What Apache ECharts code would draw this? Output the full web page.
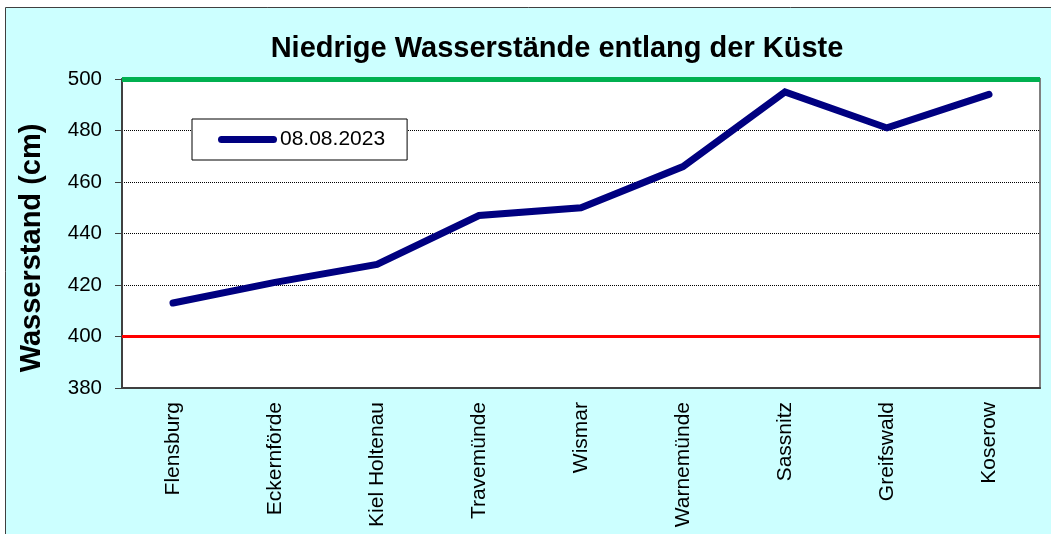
<!DOCTYPE html>
<html>
<head>
<meta charset="utf-8">
<script src="https://cdn.jsdelivr.net/npm/echarts@6/dist/echarts.min.js"></script>
<style>
  html, body { margin: 0; padding: 0; background: #fff; }
  #chart { width: 1051px; height: 534px; }
</style>
</head>
<body>
<div id="chart"></div>
<script>
// Pegelstände an der Küste
const categories = ['Flensburg', 'Eckernförde', 'Kiel Holtenau', 'Travemünde', 'Wismar',
  'Warnemünde', 'Sassnitz', 'Greifswald', 'Koserow']
const waterLevels = [413, 421, 428, 447, 450, 466, 495, 481, 494]
const seriesName = '08.08.2023'
const upperLimit = 500
const lowerLimit = 400
const yMin = 380
const yMax = 500
const yStep = 20

const font = 'Liberation Sans, Arial, sans-serif'

const options = {
  animation: false,
  graphic: [
    {
      type: 'rect',
      z: -10,
      shape: { x: 5.5, y: 7.5, width: 1200, height: 700 },
      style: { fill: '#CCFFFF', stroke: '#404040', lineWidth: 1 },
    },
    {
      type: 'text',
      z: 10,
      x: 32,
      y: 248,
      rotation: Math.PI / 2,
      style: {
        text: 'Wasserstand (cm)',
        font: 'bold 29px ' + font,
        fill: '#000',
        align: 'center',
        verticalAlign: 'middle',
      },
    },
  ],
  title: {
    text: 'Niedrige Wasserstände entlang der Küste',
    left: 557,
    top: 34,
    padding: 0,
    textAlign: 'center',
    textStyle: { fontFamily: font, fontSize: 29, fontWeight: 'bold', color: '#000' },
  },
  legend: {
    left: 192,
    top: 119,
    padding: [10, 22, 10, 26],
    backgroundColor: '#fff',
    borderColor: '#000',
    borderWidth: 1,
    itemWidth: 59,
    itemHeight: 7,
    itemGap: 5,
    data: [{
      name: seriesName,
      icon: 'path://M3.5,0 L55.5,0 A3.5,3.5 0 0 1 55.5,7 L3.5,7 A3.5,3.5 0 0 1 3.5,0 Z',
      itemStyle: { color: '#000080' },
    }],
    textStyle: { fontFamily: font, fontSize: 21, color: '#000', padding: [0, 0, 0, -2] },
  },
  grid: {
    left: 122,
    right: 11,
    top: 79,
    bottom: 146,
    show: true,
    backgroundColor: '#fff',
    borderColor: '#808080',
    borderWidth: 2,
  },
  xAxis: {
    type: 'category',
    data: categories,
    boundaryGap: true,
    axisLine: { lineStyle: { color: '#404040', width: 2 } },
    axisTick: { length: 7, lineStyle: { color: '#404040', width: 1 } },
    axisLabel: {
      rotate: 90,
      margin: 14,
      interval: 0,
      fontFamily: font,
      fontSize: 21,
      color: '#000',
    },
  },
  yAxis: {
    type: 'value',
    min: yMin,
    max: yMax,
    interval: yStep,
    axisLine: { show: true, lineStyle: { color: '#404040', width: 2 } },
    axisTick: { show: true, length: 7, lineStyle: { color: '#404040', width: 1 } },
    axisLabel: { margin: 20, fontFamily: font, fontSize: 20.5, color: '#000' },
    splitLine: { lineStyle: { color: '#000', width: 1, type: [1, 1] } },
  },
  series: [
    {
      name: seriesName,
      type: 'line',
      data: waterLevels,
      symbol: 'none',
      z: 5,
      lineStyle: { color: '#000080', width: 7, cap: 'round', join: 'miter' },
      itemStyle: { color: '#000080' },
      markLine: {
        silent: true,
        symbol: 'none',
        label: { show: false },
        data: [
          { yAxis: upperLimit, lineStyle: { color: '#00B050', width: 5, type: 'solid' } },
          { yAxis: lowerLimit, lineStyle: { color: '#FF0000', width: 3, type: 'solid' } },
        ],
      },
    },
  ],
}

const chart = echarts.init(document.getElementById('chart'))
chart.setOption(options)
</script>
</body>
</html>
